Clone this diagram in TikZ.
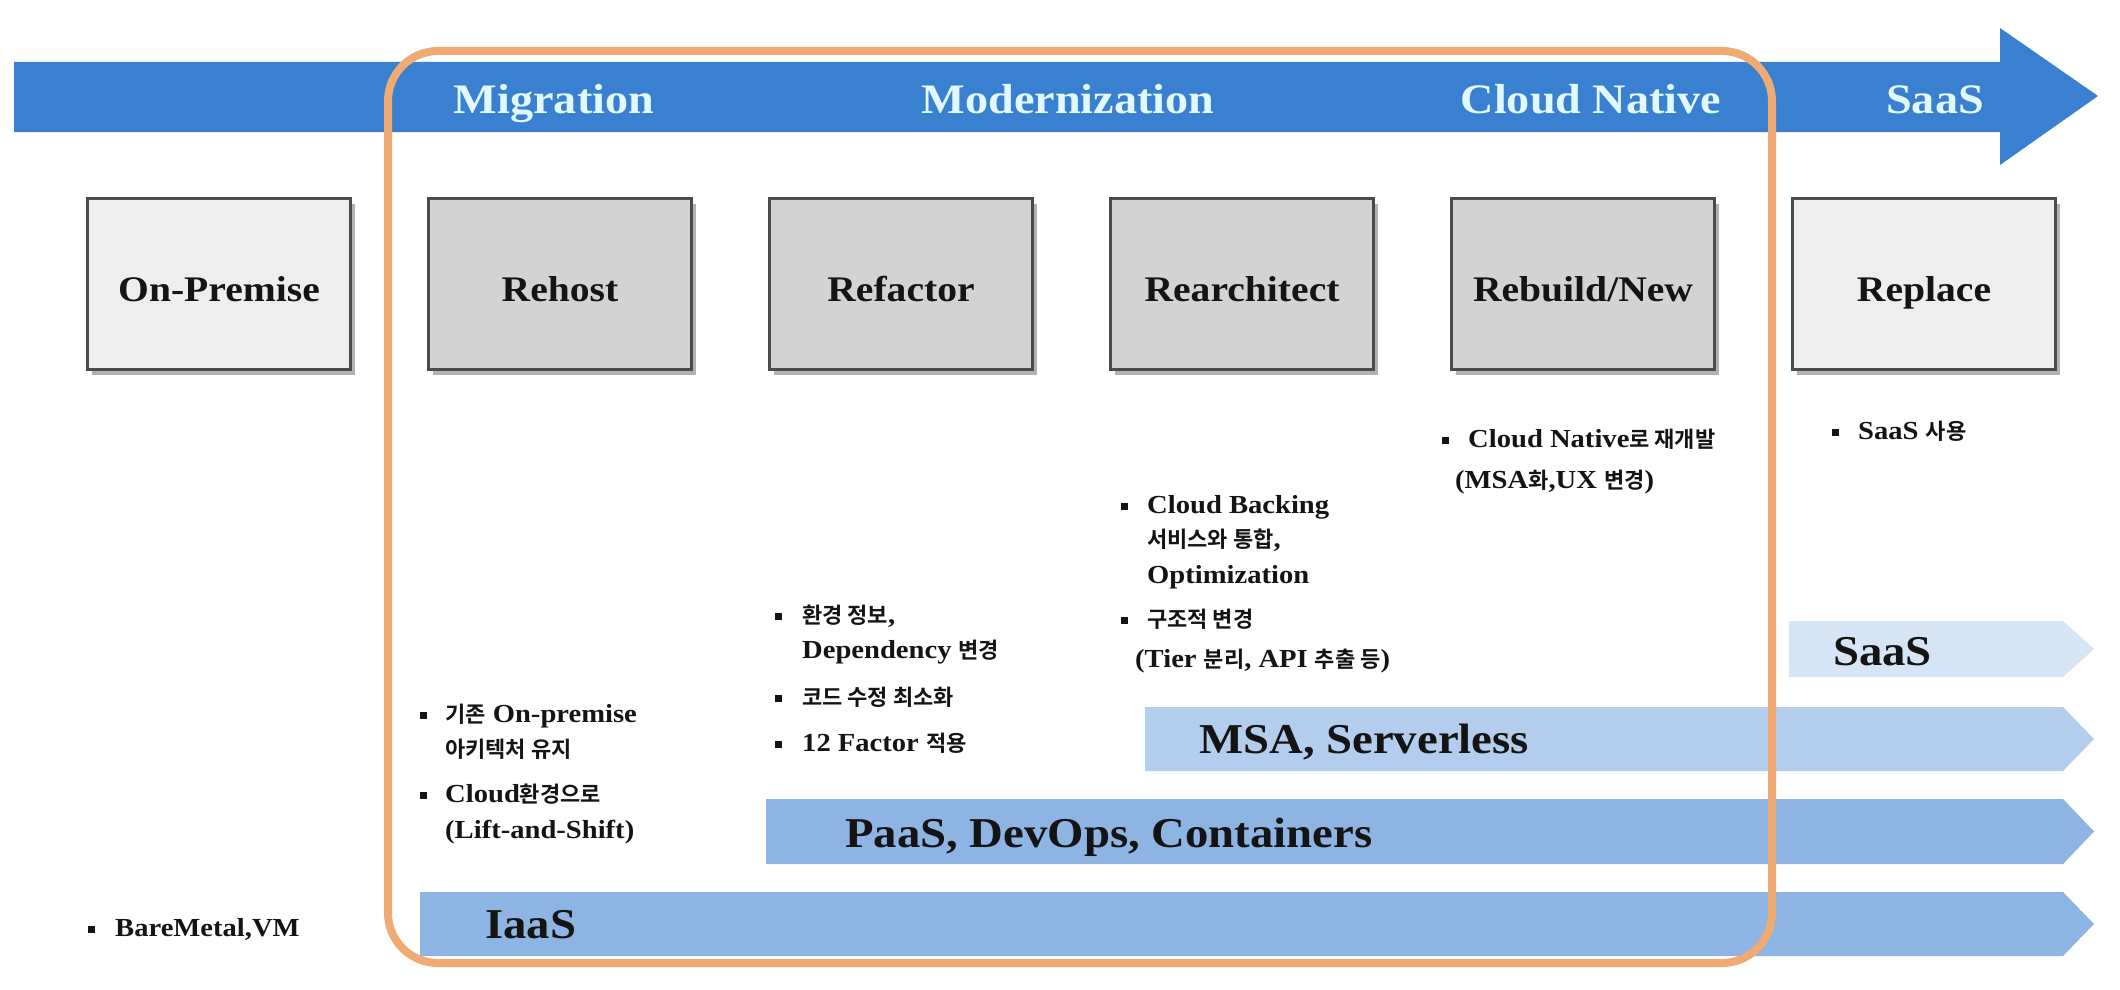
\documentclass[tikz,border=0pt]{standalone}
\usepackage{fontspec}
\setmainfont{Liberation Serif}[FakeStretch=1.1]
\newfontfamily\krfont{Noto Sans CJK KR}[BoldFont={* Bold}]
\newcommand\K[1]{{\krfont\bfseries\fontsize{22}{26}\selectfont #1}}
\usetikzlibrary{shadows}
\definecolor{topblue}{RGB}{58,128,208}
\definecolor{toptext}{RGB}{225,248,255}
\definecolor{barA}{RGB}{141,180,226}
\definecolor{barB}{RGB}{178,206,236}
\definecolor{barC}{RGB}{214,229,245}
\definecolor{orng}{RGB}{240,170,115}
\definecolor{boxdark}{RGB}{211,211,211}
\definecolor{boxlight}{RGB}{238,238,238}
\definecolor{boxline}{RGB}{75,75,75}
\definecolor{ink}{RGB}{20,20,20}
\tikzset{
  stage/.style={draw=boxline, line width=3pt, minimum width=263pt, minimum height=171pt,
    inner sep=0pt, text height=36pt, text depth=2pt,
    font=\fontsize{36}{40}\selectfont\bfseries, text=ink,
    drop shadow={shadow xshift=4pt, shadow yshift=-5pt, opacity=0.3, fill=black}},
  activestage/.style={stage, fill=boxdark},
  plainstage/.style={stage, fill=boxlight},
  toplbl/.style={font=\fontsize{42}{46}\selectfont\bfseries, text=toptext, anchor=base, inner sep=0pt},
  barlbl/.style={font=\fontsize{42.5}{46}\selectfont\bfseries, text=ink, anchor=base west, inner sep=0pt},
  btxt/.style={font=\fontsize{26}{30}\selectfont\bfseries, text=ink, anchor=base west, inner sep=0pt},
  bsq/.style={fill=ink, minimum size=7pt, inner sep=0pt},
  frame/.style={draw=orng, line width=8pt, rounded corners=50pt}
}
\begin{document}
\begin{tikzpicture}[x=1pt,y=-1pt]
\useasboundingbox (0,0) rectangle (2120,990);
\fill[white] (0,0) rectangle (2120,990);
% top arrow
\fill[topblue] (14,62) -- (2000,62) -- (2000,28) -- (2098,96) -- (2000,165) -- (2000,132) -- (14,132) -- cycle;
% layer bars
\fill[barC] (1789,621) -- (2063,621) -- (2094,649) -- (2063,677) -- (1789,677) -- cycle;
\fill[barB] (1145,707) -- (2063,707) -- (2094,739) -- (2063,771) -- (1145,771) -- cycle;
\fill[barA] (766,799) -- (2063,799) -- (2094,831.5) -- (2063,864) -- (766,864) -- cycle;
\fill[barA] (420,892) -- (2063,892) -- (2094,924) -- (2063,956) -- (420,956) -- cycle;
% stage boxes
\node[plainstage]  (onprem) at (219,284)  {On-Premise};
\node[activestage] (rehost) at (560,284)  {Rehost};
\node[activestage] (refact) at (901,284)  {Refactor};
\node[activestage] (rearch) at (1242,284) {Rearchitect};
\node[activestage] (rebuild) at (1583,284) {Rebuild/New};
\node[plainstage]  (replace) at (1924,284) {Replace};
% orange frame
\draw[frame] (388,51) rectangle (1772,963);
% top labels
\node[toplbl] (lmig) at (554,113) {Migration};
\node[toplbl] (lmod) at (1068,113) {Modernization};
\node[toplbl] (lcn) at (1591,113) {Cloud Native};
\node[toplbl] (lsaas) at (1935,113) {SaaS};
% bar labels
\node[barlbl] (tsaas) at (1833,665) {SaaS};
\node[barlbl] (tmsa) at (1199,753) {MSA, Serverless};
\node[barlbl] (tpaas) at (845,847) {PaaS, DevOps, Containers};
\node[barlbl] (tiaas) at (485,938) {IaaS};
% On-Premise
\node[bsq] (b0) at (91,929) {};
\node[btxt] (t0) at (115,936) {BareMetal,VM};
% Rehost
\node[bsq] (b1) at (423,715) {};
\node[btxt] (t1a) at (445,722) {\K{기존} On-premise};
\node[btxt] (t1b) at (445,757) {\K{아키텍처 유지}};
\node[bsq] (b2) at (423,795) {};
\node[btxt] (t2a) at (445,802) {Cloud\K{환경으로}};
\node[btxt] (t2b) at (445,838) {(Lift-and-Shift)};
% Refactor
\node[bsq] (b3) at (778,616) {};
\node[btxt] (t3a) at (802,623) {\K{환경 정보},};
\node[btxt] (t3b) at (802,658) {Dependency \K{변경}};
\node[bsq] (b4) at (778,698) {};
\node[btxt] (t4) at (802,705) {\K{코드 수정 최소화}};
\node[bsq] (b5) at (778,744) {};
\node[btxt] (t5) at (802,751) {12 Factor \K{적용}};
% Rearchitect
\node[bsq] (b6) at (1124,506) {};
\node[btxt] (t6a) at (1147,513) {Cloud Backing};
\node[btxt] (t6b) at (1147,547) {\K{서비스와 통합},};
\node[btxt] (t6c) at (1147,583) {Optimization};
\node[bsq] (b7) at (1124,620) {};
\node[btxt] (t7a) at (1147,627) {\K{구조적 변경}};
\node[btxt] (t7b) at (1135,667) {(Tier \K{분리}, API \K{추출 등})};
% Rebuild
\node[bsq] (b8) at (1445,440) {};
\node[btxt] (t8a) at (1468,447) {Cloud Native\K{로 재개발}};
\node[btxt] (t8b) at (1455,488) {(MSA\K{화},UX \K{변경})};
% Replace
\node[bsq] (b9) at (1835,432) {};
\node[btxt] (t9) at (1858,439) {SaaS \K{사용}};
\end{tikzpicture}
\end{document}
